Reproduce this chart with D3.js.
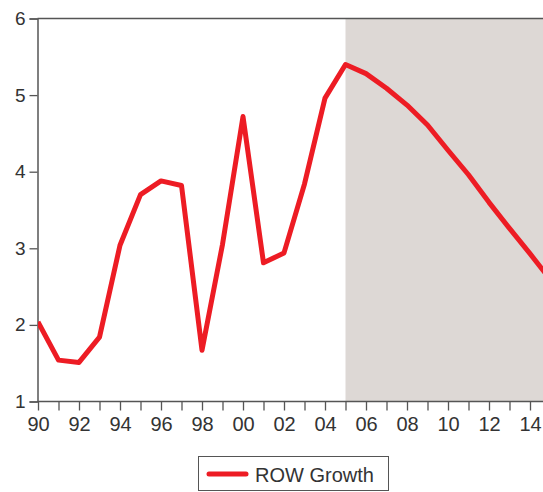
<!DOCTYPE html>
<html><head><meta charset="utf-8">
<script src="https://cdn.jsdelivr.net/npm/d3@7"></script>
<style>body{margin:0;background:#fff}svg{display:block}text{font-family:"Liberation Sans",Arial,sans-serif}</style>
</head><body><svg id="c" width="543" height="492"></svg>
<script>
const years = [1990,1991,1992,1993,1994,1995,1996,1997,1998,1999,2000,2001,2002,2003,2004,2005,2006,2007,2008,2009,2010,2011,2012,2013,2014,2015];
const growth = [2.04,1.54,1.51,1.84,3.04,3.70,3.88,3.82,1.67,3.05,4.72,2.81,2.94,3.84,4.96,5.40,5.28,5.09,4.87,4.61,4.28,3.96,3.60,3.26,2.93,2.59];
const forecastStart = 2005;
const yTicks = [1,2,3,4,5,6];
const xTickYears = d3.range(1990,2015,1);
const seriesName = "ROW Growth";

const svg = d3.select("#c");
const W = 543, H = 492;
const x = d3.scaleLinear().domain([1990,2015]).range([38,550.5]);
const y = d3.scaleLinear().domain([1,6]).range([401.5,18.5]);
const axisColor = "#555", textColor = "#333";

svg.append("clipPath").attr("id","clip").append("rect")
  .attr("x",38).attr("y",0).attr("width",W-38).attr("height",402);

// forecast shading
svg.append("rect").attr("x",x(forecastStart)).attr("y",y(6))
  .attr("width",W-x(forecastStart)).attr("height",y(1)-y(6))
  .attr("fill","#ddd8d5");

// top border
svg.append("line").attr("x1",37.5).attr("x2",W).attr("y1",y(6)).attr("y2",y(6))
  .attr("stroke",axisColor).attr("stroke-width",1.5);

// y axis
const ya = svg.append("g").attr("transform","translate(37.5,0)")
  .call(d3.axisLeft(y).tickValues(yTicks).tickSize(8).tickPadding(4).tickFormat(d3.format("d")));
ya.select(".domain").attr("stroke",axisColor).attr("stroke-width",1.5);
ya.selectAll(".tick line").attr("stroke",axisColor).attr("stroke-width",1.3);
ya.selectAll("text").attr("font-size",19).attr("fill",textColor).attr("font-family","Liberation Sans, Arial, sans-serif");

// x axis
const xa = svg.append("g").attr("transform","translate(0,"+y(1)+")")
  .call(d3.axisBottom(x).tickValues(xTickYears).tickSize(9).tickPadding(6)
    .tickFormat(d => d%2===0 ? String(d%100).padStart(2,"0") : ""));
xa.select(".domain").attr("d","M37.5,0H"+W).attr("stroke",axisColor).attr("stroke-width",1.5);
xa.selectAll(".tick line").attr("stroke",axisColor).attr("stroke-width",1.3);
xa.selectAll("text").attr("font-size",20).attr("fill",textColor).attr("font-family","Liberation Sans, Arial, sans-serif");

// line
const data = years.map((yr,i)=>({yr, v:growth[i]}));
svg.append("path").datum(data).attr("clip-path","url(#clip)")
  .attr("fill","none").attr("stroke","#ed1c24").attr("stroke-width",5)
  .attr("stroke-linejoin","round")
  .attr("d", d3.line().x(d=>x(d.yr)).y(d=>y(d.v)));

// legend
const lg = svg.append("g");
lg.append("rect").attr("x",198.5).attr("y",456.5).attr("width",190).attr("height",34)
  .attr("fill","#fff").attr("stroke","#555").attr("stroke-width",1);
lg.append("line").attr("x1",209).attr("x2",246).attr("y1",474).attr("y2",474)
  .attr("stroke","#ed1c24").attr("stroke-width",5).attr("stroke-linecap","round");
lg.append("text").attr("x",255).attr("y",482).attr("font-size",20).attr("fill",textColor)
  .text(seriesName);
</script></body></html>
